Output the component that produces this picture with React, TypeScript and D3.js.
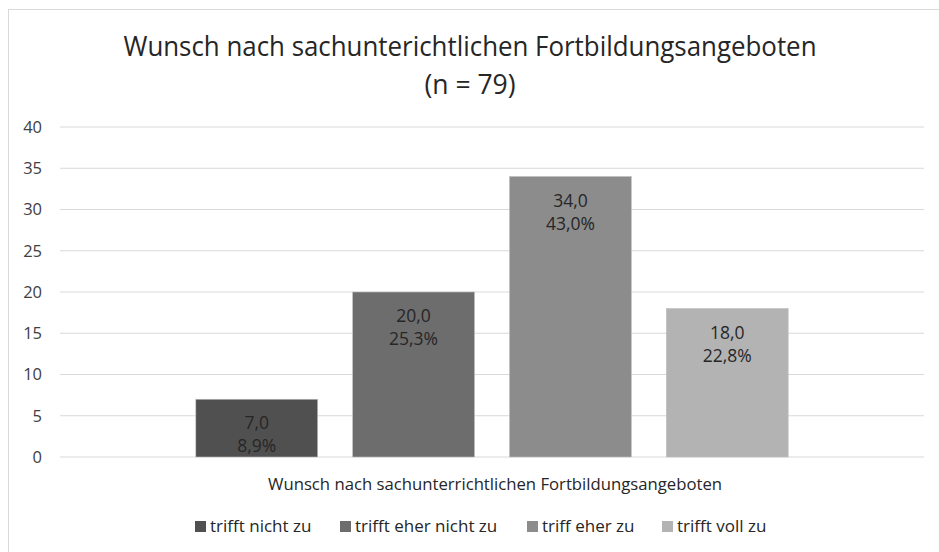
import React from "react";
import * as d3 from "d3";

const categories = ["Wunsch nach sachunterrichtlichen Fortbildungsangeboten"];
const seriesNames = ["trifft nicht zu", "trifft eher nicht zu", "triff eher zu", "trifft voll zu"];
const seriesValues = [7, 20, 34, 18];
const seriesPercents = ["8,9%", "25,3%", "43,0%", "22,8%"];
const seriesColors = ["#505050", "#6d6d6d", "#8c8c8c", "#b3b3b3"];
const yTicks = [0, 5, 10, 15, 20, 25, 30, 35, 40];
const titleLines = ["Wunsch nach sachunterichtlichen Fortbildungsangeboten", "(n = 79)"];

const W = 939;
const H = 552;
const FONT = "'Open Sans', sans-serif";

export default function App() {
  const left = 60;
  const right = 924;
  const top = 127;
  const bottom = 457;

  const y = d3.scaleLinear().domain([0, 40]).range([bottom, top]);
  const x0 = d3.scaleBand().domain(categories).range([left, right]).padding(0);
  const x1 = d3
    .scaleBand()
    .domain(seriesNames)
    .range([x0(categories[0])!, x0(categories[0])! + x0.bandwidth()])
    .paddingInner(0.223)
    .paddingOuter(0.866);

  const fmt = (v: number) => v.toFixed(1).replace(".", ",");

  const legendX = [195, 340, 527, 662];

  return (
    <svg
      width={W}
      height={H}
      style={{ position: "absolute", left: 0, top: 0, background: "#ffffff" }}
      fontFamily={FONT}
    >
      <rect x={8.5} y={9.5} width={W} height={H} fill="#ffffff" stroke="#d9d9d9" strokeWidth={1} />
      {titleLines.map((t, i) => (
        <text
          key={i}
          x={470}
          y={56 + i * 38}
          textAnchor="middle"
          fontSize={26.5}
          fill="#262626"
          textLength={i === 0 ? 693 : undefined}
          lengthAdjust="spacingAndGlyphs"
        >
          {t}
        </text>
      ))}
      {yTicks.map((t) => (
        <g key={t}>
          <line x1={left} x2={right} y1={y(t)} y2={y(t)} stroke="#d9d9d9" strokeWidth={1.2} />
          <text x={42} y={y(t)} dy="0.36em" textAnchor="end" fontSize={16.5} fill="#404040">
            {t}
          </text>
        </g>
      ))}
      {seriesNames.map((s, i) => {
        const bx = x1(s)!;
        const by = y(seriesValues[i]);
        const cx = bx + x1.bandwidth() / 2;
        return (
          <g key={s}>
            <rect
              x={bx}
              y={by}
              width={x1.bandwidth()}
              height={bottom - by}
              fill={seriesColors[i]}
              stroke="#bfbfbf"
              strokeWidth={0.6}
            />
            <text x={cx} y={by + 30} textAnchor="middle" fontSize={17.5} fill="#262626">
              {fmt(seriesValues[i])}
            </text>
            <text x={cx} y={by + 53} textAnchor="middle" fontSize={17.5} fill="#262626">
              {seriesPercents[i]}
            </text>
          </g>
        );
      })}
      <text
        x={495}
        y={490}
        textAnchor="middle"
        fontSize={17}
        fill="#262626"
        textLength={454}
        lengthAdjust="spacingAndGlyphs"
      >
        {categories[0]}
      </text>
      {seriesNames.map((s, i) => (
        <g key={s}>
          <rect x={legendX[i]} y={521} width={11} height={11} fill={seriesColors[i]} />
          <text x={legendX[i] + 15} y={532} fontSize={17} fill="#262626">
            {s}
          </text>
        </g>
      ))}
    </svg>
  );
}
